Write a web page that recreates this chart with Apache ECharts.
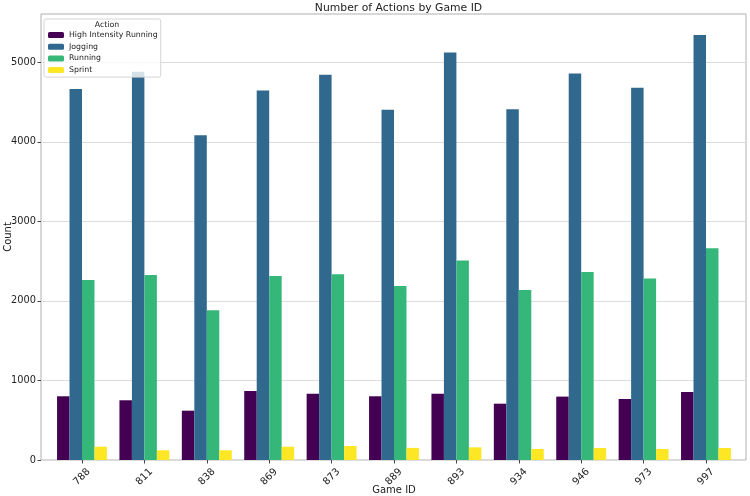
<!DOCTYPE html>
<html>
<head>
<meta charset="utf-8">
<script src="https://cdn.jsdelivr.net/npm/echarts@6/dist/echarts.min.js"></script>
<style>html,body{margin:0;padding:0;background:#fff;}#c{width:750px;height:496px;}</style>
</head>
<body>
<div id="c"></div>
<script>
const categories = ['788','811','838','869','873','889','893','934','946','973','997'];
const highIntensityRunning = [801, 751, 620, 868, 834, 801, 834, 708, 797, 767, 855];
const jogging = [4663, 4880, 4084, 4645, 4843, 4403, 5124, 4411, 4860, 4679, 5342];
const running = [2264, 2327, 1883, 2314, 2335, 2189, 2507, 2138, 2365, 2281, 2663];
const sprint = [167, 122, 122, 167, 176, 152, 159, 138, 151, 138, 151];
const yTicks = [0, 1000, 2000, 3000, 4000, 5000];
const seriesNames = ['High Intensity Running', 'Jogging', 'Running', 'Sprint'];
const colors = ['#440154', '#31688e', '#35b779', '#fde725'];

const FONT = 'DejaVu Sans';
const YMAX = 5607;
const chart = echarts.init(document.getElementById('c'), null, {renderer: 'canvas'});
const values = [highIntensityRunning, jogging, running, sprint];

chart.setOption({
  animation: false,
  backgroundColor: '#fff',
  textStyle: {fontFamily: FONT},
  title: [
    {text: 'Number of Actions by Game ID', left: 393.5, top: -2, textAlign: 'center',
     textStyle: {fontFamily: FONT, fontSize: 10.8, fontWeight: 'normal', color: '#222'}},
    {text: 'Action', left: 102, top: 16, textAlign: 'center', z: 10,
     textStyle: {fontFamily: FONT, fontSize: 7.8, fontWeight: 'normal', color: '#222'}}
  ],
  legend: {
    orient: 'vertical', left: 44, top: 19,
    padding: [11, 3, 2, 4],
    itemWidth: 16, itemHeight: 6, itemGap: 1.7,
    backgroundColor: 'rgba(255,255,255,0.8)',
    borderColor: '#d5d5d5', borderWidth: 1, borderRadius: 2,
    textStyle: {fontFamily: FONT, fontSize: 7.8, color: '#222', lineHeight: 10},
    data: seriesNames
  },
  grid: [
    {left: 41, right: 4, top: 14, bottom: 36, containLabel: false, outerBoundsMode: 'none',
     show: true, borderColor: '#b0b0b0', borderWidth: 1, backgroundColor: 'transparent'},
    {left: 50.8, right: 12.8, top: 14, bottom: 36, containLabel: false, outerBoundsMode: 'none'}
  ],
  xAxis: [
    {type: 'category', gridIndex: 0, data: categories, show: false},
    {type: 'category', gridIndex: 1, data: categories,
     axisLine: {show: false},
     axisTick: {show: true, alignWithLabel: true, length: 3.5, lineStyle: {color: '#444'}},
     axisLabel: {rotate: 45, align: 'center', verticalAlign: 'middle', margin: 17,
                 fontFamily: FONT, fontSize: 10, color: '#222'},
     name: 'Game ID', nameLocation: 'middle', nameGap: 25, nameMoveOverlap: false,
     nameTextStyle: {fontFamily: FONT, fontSize: 10, color: '#222'}}
  ],
  yAxis: [
    {type: 'value', gridIndex: 0, min: 0, max: YMAX,
     axisLine: {show: false},
     axisTick: {show: true, length: 3.5, customValues: yTicks, lineStyle: {color: '#444'}},
     axisLabel: {customValues: yTicks, margin: 5, formatter: v => String(v),
                 fontFamily: FONT, fontSize: 9.8, color: '#222'},
     splitLine: {show: true, lineStyle: {color: '#dcdcdc', width: 1}},
     name: 'Count', nameLocation: 'middle', nameGap: 28, nameRotate: 90, nameMoveOverlap: false,
     nameTextStyle: {fontFamily: FONT, fontSize: 10, color: '#222'}},
    {type: 'value', gridIndex: 1, min: 0, max: YMAX, show: false, splitLine: {show: false}}
  ],
  series: seriesNames.map((n, i) => ({
    name: n, type: 'bar', xAxisIndex: 1, yAxisIndex: 1,
    data: values[i],
    barGap: '0%', barCategoryGap: '20%',
    itemStyle: {color: colors[i]}
  }))
});
</script>
</body>
</html>
